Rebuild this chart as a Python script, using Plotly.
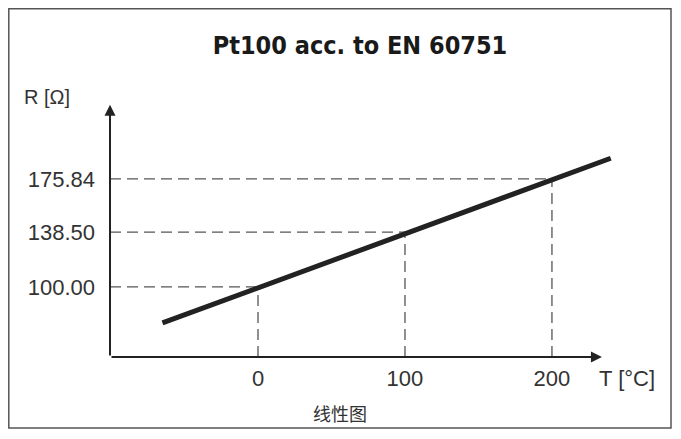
import plotly.graph_objects as go

# ---- data ----
T_line = [-65, 240]            # °C, endpoints of characteristic
R_line = [74.7, 190.4]         # Ω
T_ref = [0, 100, 200]          # reference temperatures
R_ref = [100.00, 138.50, 175.84]
x_ticktext = ["0", "100", "200"]
y_ticktext = ["100.00", "138.50", "175.84"]

X_MIN, X_MAX = -100.7, 246.3
Y_MIN, Y_MAX = 50.8, 231.3
X_ARROW, Y_ARROW = 234, 228

fig = go.Figure()

# dashed guide lines built from reference data
hx, hy, vx, vy = [], [], [], []
for t, r in zip(T_ref, R_ref):
    hx += [X_MIN, t, None]
    hy += [r, r, None]
    vx += [t, t, None]
    vy += [Y_MIN, r, None]
fig.add_trace(go.Scatter(x=hx + vx, y=hy + vy, mode="lines",
                         line=dict(color="#555555", width=1.3, dash="11px,6px"),
                         hoverinfo="skip", showlegend=False))

# characteristic line
fig.add_trace(go.Scatter(x=T_line, y=R_line, mode="lines",
                         line=dict(color="#222222", width=5),
                         showlegend=False))

OFF = 8  # page body margin offset
W, H = 681, 439
L, R, T, B = 110 - OFF, 681 - 620 + OFF, 100 - OFF, 439 - 357 + OFF
pw, ph = W - L - R, H - T - B

def px_to_paper(xs, ys):
    xp, yp = xs - OFF, ys - OFF
    return (xp - L) / pw, (H - B - yp) / ph

x0p, y0p = px_to_paper(8.8, 428)
x1p, y1p = px_to_paper(671, 8.8)
fig.add_shape(type="rect", xref="paper", yref="paper", x0=x0p, y0=y0p, x1=x1p, y1=y1p,
              line=dict(color="#555555", width=1.5), layer="below")

# axes with arrows
fig.add_annotation(x=X_MIN, y=Y_ARROW, ax=X_MIN, ay=Y_MIN, xref="x", yref="y", axref="x", ayref="y",
                   text="", showarrow=True, arrowhead=2, arrowsize=1.1, arrowwidth=2,
                   arrowcolor="#222222", standoff=0, startstandoff=0)
fig.add_annotation(x=X_ARROW, y=Y_MIN, ax=X_MIN, ay=Y_MIN, xref="x", yref="y", axref="x", ayref="y",
                   text="", showarrow=True, arrowhead=2, arrowsize=1.1, arrowwidth=2,
                   arrowcolor="#222222", standoff=0, startstandoff=0)

font = "Liberation Sans, Arial, sans-serif"
tx, ty = px_to_paper(22, 97)
fig.add_annotation(x=tx, y=ty, xref="paper", yref="paper", text="R [Ω]", showarrow=False,
                   xanchor="left", yanchor="middle", font=dict(family=font, size=20, color="#333333"))
tx, ty = px_to_paper(597, 378)
fig.add_annotation(x=tx, y=ty, xref="paper", yref="paper", text="T [°C]", showarrow=False,
                   xanchor="left", yanchor="middle", font=dict(family=font, size=22, color="#333333"))
tx, ty = px_to_paper(340, 413)
fig.add_annotation(x=tx, y=ty, xref="paper", yref="paper", text="线性图", showarrow=False,
                   xanchor="center", yanchor="middle",
                   font=dict(family="Noto Sans CJK SC", size=18, color="#333333"))

fig.update_layout(
    width=W, height=H,
    margin=dict(l=L, r=R, t=T, b=B),
    paper_bgcolor="white", plot_bgcolor="white",
    title=dict(text="<b>Pt100 acc. to EN 60751</b>", x=(360 - OFF) / W, xanchor="center",
               y=1 - (45 - OFF) / H, yanchor="middle",
               font=dict(family="DejaVu Sans Condensed, Liberation Sans Narrow, Arial", size=25,
                         color="#1a1a1a")),
    xaxis=dict(range=[X_MIN, X_MAX], tickvals=T_ref, ticktext=x_ticktext, showgrid=False,
               zeroline=False, showline=False, ticks="", ticklabelstandoff=6,
               tickfont=dict(family=font, size=22, color="#333333")),
    yaxis=dict(range=[Y_MIN, Y_MAX], tickvals=R_ref, ticktext=y_ticktext, showgrid=False,
               zeroline=False, showline=False, ticks="", ticklabelstandoff=14,
               tickfont=dict(family=font, size=22, color="#333333")),
)

fig.write_html("out.html")
